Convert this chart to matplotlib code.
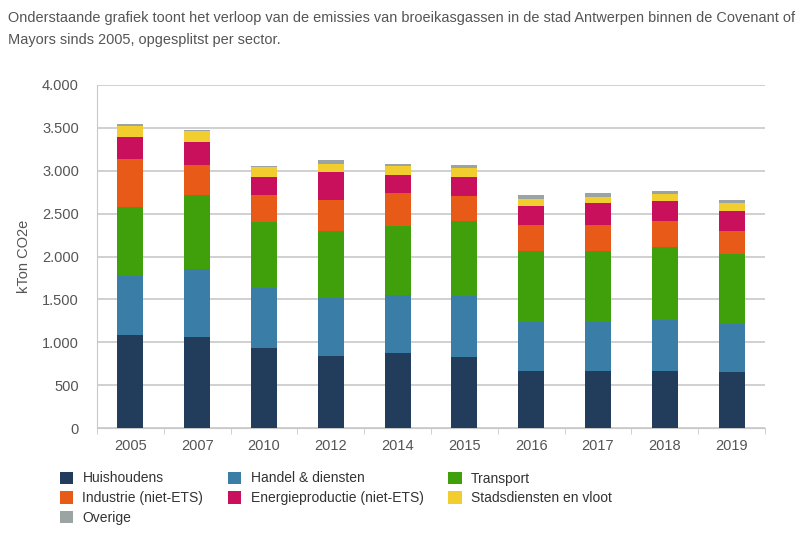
import numpy as np
import matplotlib
matplotlib.use("Agg")
import matplotlib.pyplot as plt
from matplotlib.patches import Patch

plt.rcParams['font.family'] = ['Liberation Sans', 'DejaVu Sans']

years = ["2005", "2007", "2010", "2012", "2014", "2015", "2016", "2017", "2018", "2019"]

huishoudens = [1088, 1062, 935, 838, 869, 824, 668, 668, 668, 653]
handel = [681, 796, 700, 681, 681, 711, 564, 564, 591, 563]
transport = [808, 861, 773, 777, 804, 874, 835, 835, 855, 812]
industrie = [558, 346, 307, 365, 381, 292, 300, 303, 295, 273]
energie = [261, 273, 208, 320, 219, 225, 225, 253, 233, 233]
stadsdiensten = [127, 127, 115, 100, 96, 105, 82, 74, 90, 85]
overige = [19, 5, 23, 46, 23, 39, 42, 47, 35, 39]

sectors = [
    ("Huishoudens", huishoudens, "#223c5c"),
    ("Handel & diensten", handel, "#3a7ea8"),
    ("Transport", transport, "#3fa00c"),
    ("Industrie (niet-ETS)", industrie, "#e85a17"),
    ("Energieproductie (niet-ETS)", energie, "#c8105c"),
    ("Stadsdiensten en vloot", stadsdiensten, "#f2cd30"),
    ("Overige", overige, "#9ba4a2"),
]

text_grey = "#555555"

fig = plt.figure(figsize=(8, 5.56), dpi=100)
ax = fig.add_axes([97 / 800, 1 - 428 / 556, 668 / 800, 343 / 556])

x = np.arange(len(years))
bottom = np.zeros(len(years))
for name, vals, col in sectors:
    ax.bar(x, vals, width=0.39, bottom=bottom, color=col, zorder=3)
    bottom += np.array(vals)

ax.set_ylim(0, 4000)
ax.set_xlim(-0.5, len(years) - 0.5)
ax.set_yticks(np.arange(0, 4001, 500))
ax.set_yticklabels([f"{v:,}".replace(",", ".") for v in range(0, 4001, 500)])
ax.yaxis.grid(True, color="#c8c8c8", linewidth=1.2, zorder=0)
ax.tick_params(axis="y", length=0, pad=13, labelsize=10.5, labelcolor=text_grey)

ax.set_xticks(x)
ax.set_xticklabels(years)
ax.set_xticks(np.arange(-0.5, len(years)), minor=True)
ax.tick_params(axis="x", which="major", length=0, pad=8, labelsize=10.5, labelcolor=text_grey)
ax.tick_params(axis="x", which="minor", length=4, color="#c8c8c8", direction="out")

for s in ["top", "right"]:
    ax.spines[s].set_visible(False)
ax.spines["left"].set_color("#c8c8c8")
ax.spines["bottom"].set_color("#c8c8c8")

ax.set_ylabel("kTon CO2e", fontsize=10.5, color=text_grey, labelpad=8)

fig.text(8 / 800, 1 - 18 / 556,
         "Onderstaande grafiek toont het verloop van de emissies van broeikasgassen in de stad Antwerpen binnen de Covenant of",
         fontsize=10.45, color=text_grey, va="center")
fig.text(8 / 800, 1 - 40 / 556, "Mayors sinds 2005, opgesplitst per sector.",
         fontsize=10.45, color=text_grey, va="center")

# legend filled column-wise, so reorder to read row by row
order = [0, 3, 6, 1, 4, 2, 5]
handles = [Patch(facecolor=sectors[i][2], label=sectors[i][0]) for i in order]
fig.legend(handles=handles, ncol=3, loc="upper left",
           bbox_to_anchor=(47 / 800, 1 - 459 / 556), frameon=False,
           fontsize=10, labelcolor="#333333", handlelength=1.0, handleheight=1.0,
           handletextpad=0.65, columnspacing=1.75, labelspacing=0.4)

fig.savefig("out.png", dpi=100)
